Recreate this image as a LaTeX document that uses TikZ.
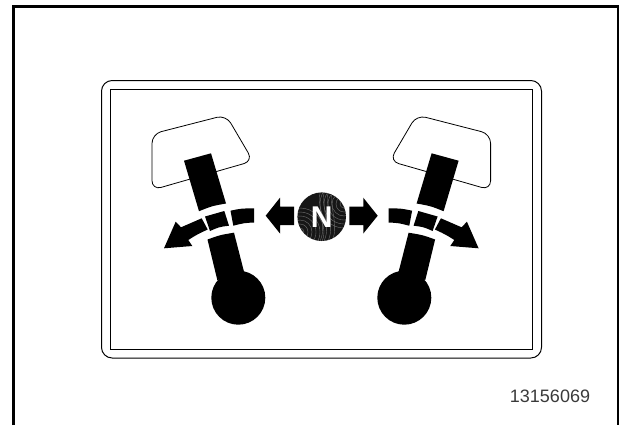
\documentclass[tikz,border=0pt]{standalone}
\usepackage{fontspec}
\setmainfont{Liberation Sans}
\usepackage{xcolor}
\definecolor{LeverBlack}{HTML}{000000}
\definecolor{DialDark}{HTML}{161616}
\definecolor{DialLine}{HTML}{707070}
\definecolor{CodeGray}{HTML}{3A3A3A}
\tikzset{
  pageframe/.style={line width=2pt,draw=LeverBlack},
  plateline/.style={line width=0.75pt,draw=LeverBlack},
  gripline/.style={line width=0.6pt,draw=LeverBlack,fill=white,rounded corners=7pt},
  solidpart/.style={fill=LeverBlack,draw=none},
  dialline/.style={line width=0.3pt,draw=DialLine},
  lever/.pic={
    % grip, then shaft on top of it
    \draw[gripline] (152,134)--(226,115)--(253,161)--(152,190)--cycle;
    \fill[solidpart] (184,160.7)--(211,153.3)--(226,203.5) .. controls (212,206) .. (199,211.2)--cycle;
    \fill[solidpart] (207.5,239.5) .. controls (220,235) .. (234,232.7)--(244,271.7)--(217.3,280)--cycle;
    \fill[solidpart] (238.3,297.7) circle (27);
    % curved travel arrow
    \fill[solidpart] (230.5,210.7) .. controls (241,208.5) .. (254,208.3)--(254,222.5) .. controls (244,223) .. (233.3,225.7)--cycle;
    \fill[solidpart] (205,216.5) .. controls (214,213) .. (224.3,211)--(229,225.7) .. controls (219,227) .. (210,231)--cycle;
    \fill[solidpart] (201.7,218.3) .. controls (191,222) .. (181,227.3)--(175.7,221.7)--(164,248.3)
      --(192.3,246)--(188.3,240) .. controls (197,234.5) .. (207.7,229.5)--cycle;
  }
}
\begin{document}
\begin{tikzpicture}[x=0.75pt,y=-0.75pt]
  \useasboundingbox (0,0) rectangle (620,425);
  \draw[pageframe] (13.5,425)--(13.5,6.5)--(618,6.5)--(618,425);
  \draw[plateline,rounded corners=8pt] (101.5,80.5) rectangle (541.5,358);
  \draw[plateline] (110,89) rectangle (532.5,349);

  \pic at (0,0) {lever};
  \pic[xscale=-1] at (642.6,0) {lever};

  % neutral dial and its two arrows
  \fill[solidpart] (294,206.7)--(280,206.7)--(280,197.7)--(265.7,215.7)--(280,233.5)--(280,225)--(294,225)--cycle;
  \fill[solidpart] (349.3,206.7)--(363.3,206.7)--(363.3,197.7)--(377.7,215.7)--(363.3,233.5)--(363.3,225)--(349.3,225)--cycle;
  \fill[DialDark] (321.7,216.7) circle (24.3);
  \begin{scope}
    \clip (321.7,216.7) circle (24.3);
    \foreach \k in {4,8,...,24}{
      \draw[dialline] (300,232) circle (\k);
      \draw[dialline] (344,204) circle (\k);
    }
    \foreach \k in {3,7,...,15}{
      \draw[dialline] (318+\k,190) .. controls (312+\k,204) and (326+\k,226) .. (316+\k,243);
    }
  \end{scope}
  \node[inner sep=0pt,text=white,font=\fontsize{22.5pt}{22.5pt}\selectfont\bfseries] (dial) at (321.7,216.7) {N};

  \node[inner sep=0pt,text=CodeGray,font=\fontsize{13.5pt}{13.5pt}\selectfont] (code) at (550,396.5) {13156069};
\end{tikzpicture}
\end{document}
